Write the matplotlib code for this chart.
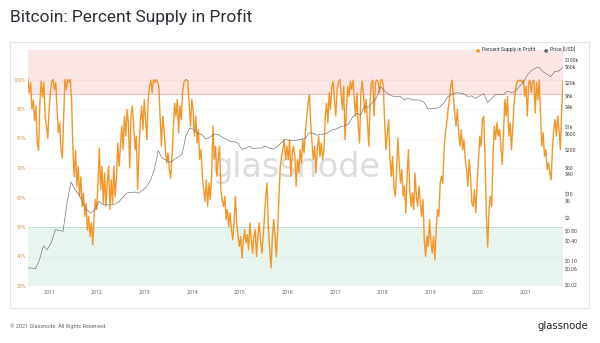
import numpy as np
import pandas as pd
import matplotlib
matplotlib.use('Agg')
import matplotlib.pyplot as plt
from matplotlib.patches import Rectangle

# percent of supply in profit left to right (~10 day steps)
psip_2010_2012 = [100, 95.5, 99, 90, 93, 86, 91, 78.5, 76, 92, 99.4, 94, 99, 87.5, 84, 80, 90, 95.5,
                  99.4, 100, 96.6, 99, 90, 82, 85.3, 76, 73.4, 87.5, 100, 96.6, 100, 99, 100, 93, 76, 67,
                  76, 63.8, 70.6, 60.4, 67, 57, 61.5, 53.6, 58, 49, 53.6, 46.8, 51.4, 44, 53.6, 59.3,
                  55.9, 65, 76.8, 62.7, 70.6, 58, 68.3, 57, 65, 70.6, 55.9, 66, 58, 70.6, 60.4, 67, 78.5, 70.6]
psip_2012_2014 = [77.4, 84.2, 76.2, 87.6, 80.8, 89.8, 85.3, 70, 87.6, 91, 84.2, 76.2, 80.8, 62.7, 76.2,
                  85.3, 91, 83, 93.2, 86.4, 79.6, 93.2, 97.7, 99.8, 95.5, 100, 99, 100, 99.4, 97.7, 87.6,
                  77.4, 87.6, 83, 76.2, 71.7, 75.1, 69.5, 66.6, 74, 83, 92, 87.6, 93.2, 81.9, 91, 86.4,
                  95.5, 99, 99.8, 100, 99.4, 92, 84.2, 93.2, 89.8, 80.8, 87.6, 78.5, 83, 72.9, 76.2, 67.2,
                  62.7, 58.7, 66]
psip_2014_2016 = [57, 64.9, 59.3, 67.2, 84.2, 72.9, 77.4, 67.2, 72.9, 77.4, 62.7, 59.3, 57, 60.4, 52.5,
                  55.9, 50.2, 54.8, 49.1, 45.7, 51.4, 60.4, 51.4, 46.8, 43.4, 46.8, 39.5, 45.7, 49.1, 44.6,
                  47.4, 42.3, 51.4, 45.7, 41.2, 46.8, 49.1, 40, 46.8, 51.4, 45.7, 41.2, 46.8, 53.6, 60.4,
                  64.9, 49.1, 42.3, 36.1, 46.8, 52.5, 46.8, 40, 49.1, 60.4, 70.6, 74, 76.2, 79.6, 72.9,
                  77.4, 72.9, 79.6, 67.2, 75.1, 77.4, 74]
psip_2016_2018 = [63.8, 72.9, 68.3, 76.2, 71.7, 79.6, 75.1, 81.9, 87.6, 92, 94.9, 85.3, 78.5, 72.9, 77.4,
                  68.3, 76.2, 80.8, 74, 78.5, 72.9, 76.2, 87.6, 92, 85.3, 95.5, 89.8, 97.7, 99.4, 93.2,
                  87.6, 96.6, 99, 100, 95.5, 89.8, 97.7, 79.6, 89.8, 97.7, 94.3, 99.4, 96.6, 99.8, 93.2,
                  87.6, 95.5, 84.2, 78.5, 95.5, 99.4, 94.3, 88.7, 93.2, 85.3, 77.4, 93.2, 99, 99.8, 87.6,
                  99, 99.8, 99.4, 95.5, 99.8, 100, 97.7]
psip_2018_2020 = [85.3, 76.2, 81.9, 86.4, 72.9, 67.2, 74, 63.8, 60.4, 69.5, 80.2, 71.7, 64.9, 69.5, 60.4,
                  63.8, 54.8, 67.2, 76.2, 62.7, 57, 61.5, 55.9, 68.3, 60.4, 57, 63.8, 58.1, 53.6, 59.3,
                  45.7, 40, 46.8, 43.4, 52.5, 44.6, 41.2, 46.8, 38.9, 49.1, 55.9, 53.6, 64.9, 67.2, 64.9,
                  76.2, 81.9, 85.3, 89.8, 93.2, 97.7, 99.8, 94.3, 88.7, 84.2, 89.8, 81.9, 77.4, 83, 76.2,
                  79.6, 72.9, 69.5, 63.8, 72.9, 67.2, 58.1]
psip_2020_2021 = [57, 62.7, 54.8, 64.9, 72.9, 80.8, 77.4, 86.4, 87.6, 72.9, 53.6, 43.2, 55.9, 60.4, 57,
                  74, 84.2, 79.6, 85.3, 80.8, 83, 77.4, 71.2, 81.9, 93.2, 87.6, 94.3, 80.8, 85.3, 76.2,
                  84.2, 92, 96.6, 99, 99.8, 99.4, 99.8, 99, 99.8, 94.3, 97.7, 87.6, 99, 99.8, 95.5, 99.4,
                  99.8, 88.7, 99, 93.2, 99.8, 87.6, 77.4, 81.9, 74, 76.2, 69.5, 71.7, 68.3, 66, 76.2, 83,
                  86.4, 80.8, 87.6, 83, 76.2, 89.8, 99.4]
psip = (psip_2010_2012 + psip_2012_2014 + psip_2014_2016 + psip_2016_2018
        + psip_2018_2020 + psip_2020_2021)

# monthly BTC price (USD), Jul 2010 .. Oct 2021
price = [0.065, 0.065, 0.062, 0.11, 0.30, 0.23,
         0.38, 0.90, 0.85, 0.80, 5.5, 24, 14, 10, 5.5, 3.5, 2.8, 3.5,
         6.3, 5.0, 4.9, 4.9, 5.1, 6.0, 8.0, 11.0, 11.5, 11.8, 11.0, 13.3,
         17, 27, 55, 200, 120, 105, 90, 110, 130, 160, 600, 950,
         850, 650, 600, 450, 500, 620, 620, 520, 450, 380, 380, 340,
         220, 235, 270, 230, 240, 240, 280, 240, 230, 260, 350, 430,
         410, 400, 415, 440, 460, 680, 660, 580, 610, 640, 730, 850,
         900, 1050, 1100, 1250, 2000, 2600, 2300, 4200, 3900, 5500, 7500, 16000,
         12000, 9500, 8500, 8000, 8300, 6500, 7400, 6500, 6500, 6400, 5500, 3500,
         3600, 3700, 4000, 5200, 8000, 9500, 10500, 10500, 9800, 8300, 8500, 7200,
         8600, 10000, 5500, 7000, 9300, 9500, 9200, 11800, 10700, 11500, 16500, 21000,
         36000, 48000, 57000, 60000, 45000, 38000, 32000, 46000, 47000, 60000]

pct_ticks = [30, 40, 50, 60, 70, 80, 90, 100]
price_ticks = [0.02, 0.06, 0.1, 0.4, 0.8, 2, 6, 10, 40, 60, 200, 600, 1000, 4000, 8000, 20000, 60000, 100000]
price_labels = ['$0.02', '$0.06', '$0.10', '$0.40', '$0.80', '$2', '$6', '$10', '$40', '$60',
                '$200', '$600', '$1k', '$4k', '$8k', '$20k', '$60k', '$100k']
years = list(range(2011, 2022))

start, end = pd.Timestamp('2010-07-20'), pd.Timestamp('2021-10-16')
psip_dates = pd.date_range(start, end, periods=len(psip))
price_dates = pd.date_range('2010-07-01', periods=len(price), freq='MS') + pd.Timedelta(days=14)

plt.rcParams['font.family'] = ['Roboto', 'DejaVu Sans']
W, H = 600, 343
fig = plt.figure(figsize=(6, 3.43), dpi=100)

def fx(px):
    return px / W

def fy(py):
    return 1 - py / H

# panel frame
fig.add_artist(Rectangle((fx(10), fy(308)), fx(579), 266 / H, transform=fig.transFigure,
                         fill=False, edgecolor='#e4e4e4', lw=0.8))

ax = fig.add_axes([fx(28), fy(286), fx(535), 236 / H])
ax.set_xlim(start, end)
ax.set_ylim(30, 110)
ax.axhspan(95, 110, color='#fbe5e5', lw=0, zorder=0)
ax.axhline(95, color='#f0bcbc', lw=0.7, zorder=0.2)
ax.axhspan(30, 50, color='#e7f5ee', lw=0, zorder=0)
ax.axhline(50, color='#cbe8da', lw=0.7, zorder=0.2)
for v in pct_ticks:
    ax.axhline(v, color='#000000', alpha=0.05, lw=0.5, zorder=0.3)

ax.text(fx(296), fy(176.7), 'glassnode', transform=fig.transFigure, ha='center', va='baseline',
        fontsize=24, color='#dcdcdc', family='DejaVu Sans', zorder=0.5)

ax.plot(psip_dates, psip, color='#f3962a', lw=1.0, zorder=2)

ax.set_yticks(pct_ticks)
ax.set_yticklabels([f'{v}%' for v in pct_ticks])
ax.set_xticks([pd.Timestamp(f'{y}-01-01') for y in years])
ax.set_xticklabels([str(y) for y in years])
ax.tick_params(axis='y', length=0, pad=1.2, labelsize=3.7, labelcolor='#d39549')
ax.tick_params(axis='x', length=0, pad=3, labelsize=3.8, labelcolor='#666666')
for s in ax.spines.values():
    s.set_visible(False)

ax2 = ax.twinx()
ax2.set_yscale('log')
ax2.set_ylim(0.019, 198000)
ax2.plot(price_dates, price, color='#6a6a6a', lw=0.45, zorder=3)
ax2.set_yticks(price_ticks)
ax2.set_yticklabels(price_labels)
ax2.minorticks_off()
ax2.tick_params(axis='y', length=0, pad=1.2, labelsize=3.7, labelcolor='#444444')
for s in ax2.spines.values():
    s.set_visible(False)

# legend
fig.text(fx(477.7), fy(49.5), '\u25cf', color='#f3962a', fontsize=3.5, ha='center', va='center',
         family='DejaVu Sans')
fig.text(fx(481.5), fy(49.5), 'Percent Supply in Profit', color='#333333', fontsize=3.7, va='center')
fig.text(fx(546), fy(49.5), '\u25cf', color='#6a6a6a', fontsize=3.5, ha='center', va='center',
         family='DejaVu Sans')
fig.text(fx(549.5), fy(49.5), 'Price [USD]', color='#333333', fontsize=3.7, va='center')

fig.text(fx(10), fy(17), 'Bitcoin: Percent Supply in Profit', fontsize=12.5, color='#2b2f36', va='center')
fig.text(fx(10), fy(326), '\u00a9 2021 Glassnode. All Rights Reserved.', fontsize=4, color='#666666',
         va='center')
fig.text(fx(588), fy(326), 'glassnode', fontsize=7.2, color='#1e1e1e', ha='right', va='center',
         family='DejaVu Sans')

fig.savefig('out.png', dpi=100, facecolor='white')
